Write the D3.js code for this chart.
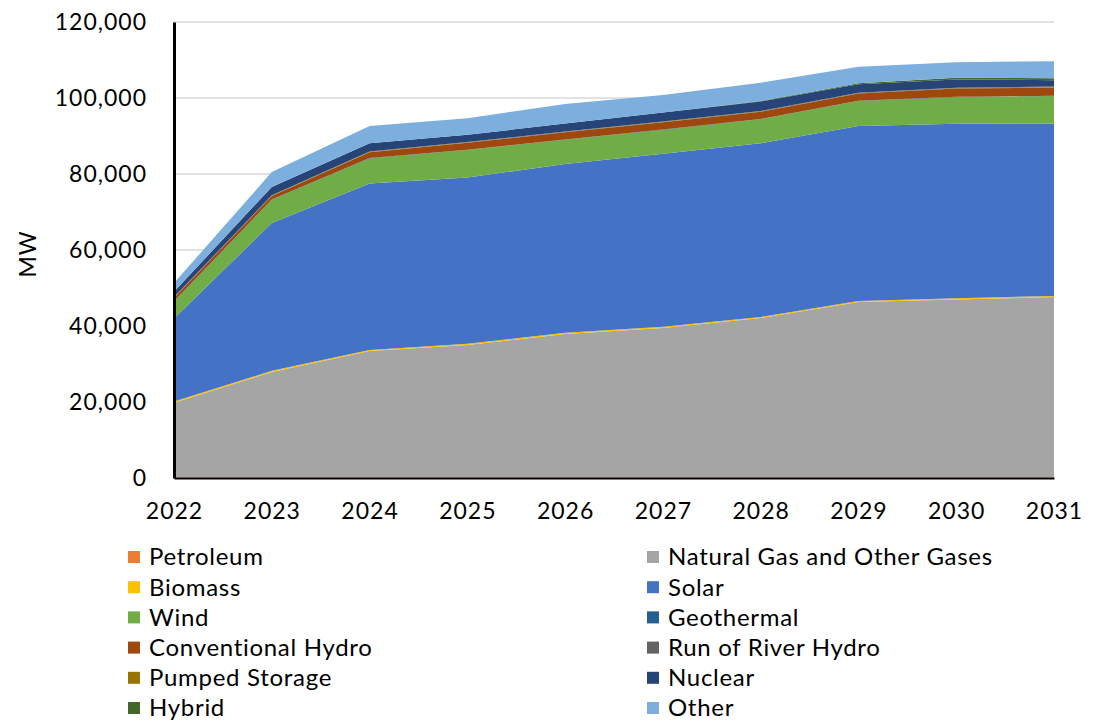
<!DOCTYPE html>
<html><head><meta charset="utf-8">
<script src="https://cdn.jsdelivr.net/npm/d3@7"></script>
<style>
html,body{margin:0;padding:0;background:#fff;}
text{font-family:Lato,"Open Sans","Liberation Sans",sans-serif;fill:#000;}
</style></head>
<body>
<svg id="chart" width="1105" height="721"></svg>
<script>
const years = [2022,2023,2024,2025,2026,2027,2028,2029,2030,2031];
const seriesNames = ["Petroleum","Natural Gas and Other Gases","Biomass","Solar","Wind","Geothermal","Conventional Hydro","Run of River Hydro","Pumped Storage","Nuclear","Hybrid","Other"];
const seriesColors = ["#ED7D31","#A5A5A5","#FFC000","#4472C4","#70AD47","#255E91","#9E480E","#636363","#997300","#264478","#43682B","#7CAFDD"];
const petroleum   = [100,100,100,100,100,100,100,100,100,100];
const naturalGas  = [19700,27800,33300,34900,37800,39400,42000,46200,46900,47500];
const biomass     = [300,300,300,300,300,300,300,300,300,300];
const solar       = [21900,38900,43800,43800,44400,45500,45700,46000,45900,45400];
const wind        = [4400,6100,6600,7200,6400,6300,6300,6600,7000,7200];
const geothermal  = [100,100,100,100,100,100,100,100,100,100];
const convHydro   = [900,900,1500,1800,1900,1900,1900,1900,2200,2100];
const runOfRiver  = [100,100,100,100,100,100,100,100,100,100];
const pumpedStor  = [100,100,100,100,100,100,100,100,100,200];
const nuclear     = [1400,2200,2200,1900,2100,2400,2500,2200,2200,1700];
const hybrid      = [0,0,0,0,0,0,100,300,400,500];
const other       = [2300,3900,4500,4400,5100,4600,4800,4300,4100,4500];
const yTicks = [0,20000,40000,60000,80000,100000,120000];

const seriesValues = [petroleum,naturalGas,biomass,solar,wind,geothermal,convHydro,runOfRiver,pumpedStor,nuclear,hybrid,other];
const table = years.map((yr,i)=>{const o={year:yr}; seriesNames.forEach((n,j)=>o[n]=seriesValues[j][i]); return o;});

const svg = d3.select("#chart");
const mLeft=174, mRight=1054, mTop=22, mBottom=478;
const x = d3.scaleLinear().domain([2022,2031]).range([mLeft,mRight]);
const y = d3.scaleLinear().domain([0,120000]).range([mBottom,mTop]);

// gridlines
svg.append("g").selectAll("line").data(yTicks.filter(d=>d>0)).join("line")
  .attr("x1",mLeft).attr("x2",mRight).attr("y1",d=>y(d)).attr("y2",d=>y(d))
  .attr("stroke","#d9d9d9").attr("stroke-width",1.5);

const stack = d3.stack().keys(seriesNames);
const layers = stack(table);
const area = d3.area().x(d=>x(d.data.year)).y0(d=>y(d[0])).y1(d=>y(d[1]));
svg.append("g").selectAll("path").data(layers).join("path")
  .attr("d",area).attr("fill",(d,i)=>seriesColors[i]);

// axes
const yAxis = d3.axisLeft(y).tickValues(yTicks).tickFormat(d3.format(",")).tickSize(0).tickPadding(27);
const gy = svg.append("g").attr("transform",`translate(${mLeft},0)`).call(yAxis);
gy.select(".domain").attr("stroke","#000").attr("stroke-width",3);
gy.selectAll("text").attr("font-size",23).attr("letter-spacing","1px").style("font-family","Lato, 'Open Sans', sans-serif");

const xAxis = d3.axisBottom(x).tickValues(years).tickFormat(d3.format("d")).tickSize(0).tickPadding(25);
const gx = svg.append("g").attr("transform",`translate(0,${mBottom})`).call(xAxis);
gx.select(".domain").attr("stroke","#000").attr("stroke-width",2);
gx.selectAll("text").attr("font-size",23).attr("letter-spacing","1px").style("font-family","Lato, 'Open Sans', sans-serif");

svg.append("text").attr("transform","translate(36,254) rotate(-90)")
  .attr("text-anchor","middle").attr("font-size",23).attr("letter-spacing","1px").text("MW");

// legend
const leg = svg.append("g");
seriesNames.forEach((n,i)=>{
  const col = i%2, row = Math.floor(i/2);
  const lx = col===0 ? 128 : 647;
  const ly = 557 + row*30.2;
  leg.append("rect").attr("x",lx).attr("y",ly-6).attr("width",12).attr("height",12).attr("fill",seriesColors[i]);
  leg.append("text").attr("x",lx+21).attr("y",ly).attr("dy","0.35em").attr("font-size",24).attr("letter-spacing","0.7px").text(n);
});
</script>
</body></html>
